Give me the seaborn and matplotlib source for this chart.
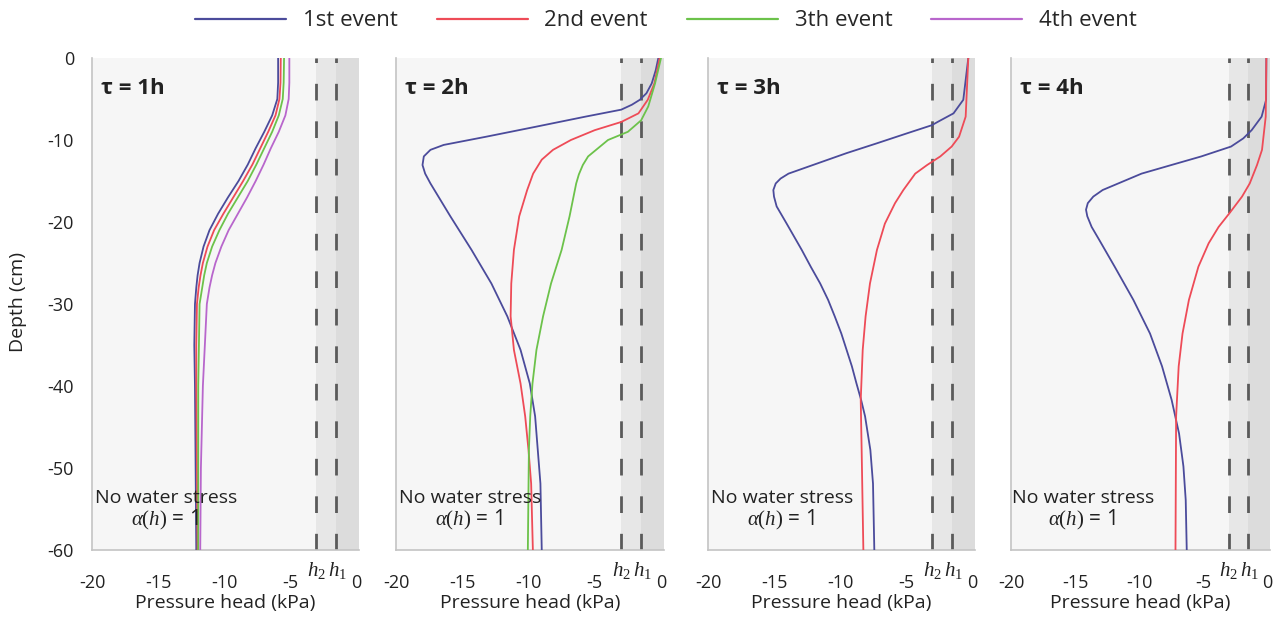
import matplotlib
matplotlib.use("Agg")
import matplotlib.pyplot as plt
import numpy as np
import pandas as pd
import seaborn as sns

# ---------------- data ----------------
events = ["1st event", "2nd event", "3th event", "4th event"]
colors = ["#4b4b9b", "#ee4b57", "#6cc24a", "#b866cc"]
taus = ["\u03c4 = 1h", "\u03c4 = 2h", "\u03c4 = 3h", "\u03c4 = 4h"]
xticks = [-20, -15, -10, -5, 0]
yticks = [0, -10, -20, -30, -40, -50, -60]
h2_value = -3.0
h1_value = -1.5

# panel 1 (tau = 1h)
p1_depth = [0, -3, -5, -7, -9, -11, -13, -15, -17, -19, -21, -23, -25, -26.5, -28, -30, -35, -40, -50, -60]
p1_e1 = [-5.9, -5.9, -5.96, -6.35, -6.95, -7.6, -8.2, -8.9, -9.7, -10.45, -11.1, -11.55, -11.85, -12.0, -12.1, -12.2, -12.25, -12.2, -12.15, -12.1]
p1_e2 = [-5.7, -5.72, -5.8, -6.1, -6.65, -7.25, -7.85, -8.55, -9.3, -10.05, -10.75, -11.25, -11.6, -11.78, -11.92, -12.05, -12.1, -12.1, -12.05, -12.0]
p1_e3 = [-5.45, -5.48, -5.55, -5.85, -6.35, -6.95, -7.55, -8.2, -8.95, -9.7, -10.35, -10.9, -11.3, -11.5, -11.65, -11.85, -11.9, -11.95, -11.95, -11.95]
p1_e4 = [-5.05, -5.05, -5.1, -5.35, -5.85, -6.45, -7.0, -7.6, -8.25, -8.95, -9.65, -10.2, -10.65, -10.9, -11.1, -11.3, -11.45, -11.6, -11.75, -11.8]

# panel 2 (tau = 2h)
p2_e1_depth = [0, -1.5, -3.1, -4.3, -5.1, -5.7, -6.3, -7.15, -8.4, -9.6, -10.6, -11.2, -12.0, -13.05, -14.1, -15.3, -17.3, -19.3, -23.4, -27.5, -31.5, -35.6, -39.7, -43.7, -47.8, -51.9, -60]
p2_e1 = [-0.2, -0.4, -0.7, -1.1, -1.6, -2.2, -3.0, -5.7, -9.5, -13.2, -16.4, -17.4, -17.9, -18.0, -17.8, -17.4, -16.65, -15.9, -14.3, -12.8, -11.6, -10.6, -9.9, -9.5, -9.3, -9.1, -9.0]
p2_e2_depth = [0, -3.1, -5.1, -6.75, -7.8, -8.8, -10.0, -11.2, -12.4, -14.1, -16.1, -19.3, -23.4, -27.5, -31.5, -35.6, -39.7, -43.7, -47.8, -51.9, -60]
p2_e2 = [-0.1, -0.5, -1.0, -1.7, -3.0, -5.0, -6.8, -8.15, -9.0, -9.65, -10.1, -10.7, -11.1, -11.3, -11.35, -11.1, -10.6, -10.25, -10.0, -9.8, -9.67]
p2_e3_depth = [0, -3.1, -5.9, -7.6, -9.0, -10.0, -11.2, -12.0, -13.05, -14.2, -15.3, -19.3, -23.4, -27.5, -31.5, -35.6, -39.7, -43.7, -47.8, -60]
p2_e3 = [0.0, -0.45, -0.96, -1.5, -2.5, -4.0, -4.9, -5.5, -5.9, -6.2, -6.4, -6.9, -7.5, -8.3, -8.9, -9.4, -9.7, -9.87, -9.97, -10.05]

# panel 3 (tau = 3h)
p3_e1_depth = [0, -5.1, -6.75, -7.75, -8.2, -9.2, -10.4, -11.6, -12.85, -14.1, -14.7, -15.3, -16.1, -16.9, -18.1, -20.2, -23.4, -25.5, -27.5, -29.5, -31.5, -33.6, -35.6, -37.6, -39.7, -41.7, -43.7, -47.8, -51.9, -60]
p3_e1 = [-0.28, -0.66, -1.4, -2.55, -3.05, -4.95, -7.2, -9.5, -11.7, -13.9, -14.5, -14.87, -15.05, -15.0, -14.8, -14.04, -12.9, -12.2, -11.5, -10.9, -10.4, -9.9, -9.5, -9.1, -8.75, -8.4, -8.1, -7.7, -7.5, -7.4]
p3_e2_depth = [0, -7.15, -9.6, -10.8, -12.0, -13.05, -14.1, -16.1, -17.7, -20.2, -23.4, -27.5, -31.5, -35.6, -41.7, -47.8, -60]
p3_e2 = [-0.28, -0.48, -0.98, -1.54, -2.4, -3.4, -4.3, -5.2, -5.83, -6.6, -7.2, -7.73, -8.06, -8.28, -8.43, -8.36, -8.23]

# panel 4 (tau = 4h)
p4_e1_depth = [0, -5.1, -7.15, -8.8, -9.8, -10.8, -12.0, -13.05, -14.1, -16.1, -16.9, -17.7, -18.5, -19.3, -20.6, -22.2, -25.45, -29.5, -33.6, -37.6, -41.7, -45.8, -49.8, -53.9, -60]
p4_e1 = [-0.05, -0.07, -0.42, -1.2, -1.85, -2.81, -5.13, -7.47, -9.8, -12.84, -13.57, -14.0, -14.14, -14.04, -13.7, -13.1, -11.9, -10.44, -9.14, -8.2, -7.45, -6.87, -6.53, -6.35, -6.27]
p4_e2_depth = [0, -7.15, -11.2, -13.05, -15.3, -16.9, -18.9, -20.6, -22.6, -25.45, -29.5, -33.6, -37.6, -43.7, -60]
p4_e2 = [-0.05, -0.1, -0.39, -0.78, -1.35, -1.95, -2.92, -3.78, -4.56, -5.36, -6.1, -6.6, -6.9, -7.1, -7.15]


def long_df(pairs):
    frames = []
    for ev, d, h in pairs:
        frames.append(pd.DataFrame({"depth": d, "head": h, "event": ev}))
    return pd.concat(frames, ignore_index=True)


panels = [
    long_df([(events[0], p1_depth, p1_e1), (events[1], p1_depth, p1_e2),
             (events[2], p1_depth, p1_e3), (events[3], p1_depth, p1_e4)]),
    long_df([(events[0], p2_e1_depth, p2_e1), (events[1], p2_e2_depth, p2_e2),
             (events[2], p2_e3_depth, p2_e3)]),
    long_df([(events[0], p3_e1_depth, p3_e1), (events[1], p3_e2_depth, p3_e2)]),
    long_df([(events[0], p4_e1_depth, p4_e1), (events[1], p4_e2_depth, p4_e2)]),
]

# ---------------- style ----------------
sns.set_theme(style="white")
plt.rcParams["font.family"] = ["Open Sans", "DejaVu Sans"]
plt.rcParams["mathtext.fontset"] = "custom"
plt.rcParams["mathtext.rm"] = "Liberation Serif"
plt.rcParams["mathtext.it"] = "Liberation Serif:italic"
plt.rcParams["lines.solid_joinstyle"] = "round"

W, H = 1287, 626
fig = plt.figure(figsize=(W / 100, H / 100), dpi=100)
fig.patch.set_facecolor("white")

XMAX = 0.2
# pixel positions of x=-20 and x=0 per panel
panel_px = [(92, 356), (396, 661), (708, 972), (1011, 1267)]
top_px, bot_px = 58, 550
palette = dict(zip(events, colors))
TXT = "#222222"

handles, labels = None, None
for i, (df, (xl, xr)) in enumerate(zip(panels, panel_px)):
    scale = (xr - xl) / 20.0
    width_px = scale * (20 + XMAX)
    ax = fig.add_axes([xl / W, (H - bot_px) / H, width_px / W, (bot_px - top_px) / H])
    ax.set_facecolor("#f6f6f6")
    ax.axvspan(h2_value, h1_value, color="#e7e7e7", lw=0, zorder=0)
    ax.axvspan(h1_value, XMAX, color="#dcdcdc", lw=0, zorder=0)
    for hv in (h2_value, h1_value):
        ax.axvline(hv, color="#5a5a5a", lw=2.0, linestyle=(0, (6, 7.5)), zorder=1)

    sns.lineplot(data=df, x="head", y="depth", hue="event",
                 hue_order=[e for e in events if e in set(df["event"])],
                 palette=palette, orient="y", estimator=None, sort=True,
                 linewidth=1.3, ax=ax, legend=(i == 0), zorder=3)
    if i == 0:
        handles, labels = ax.get_legend_handles_labels()
        ax.get_legend().remove()

    ax.set_xlim(-20, XMAX)
    ax.set_ylim(-60, 0)
    ax.set_xticks(xticks)
    ax.set_xticklabels([str(t) for t in xticks])
    ax.tick_params(axis="x", length=0, pad=17, labelsize=13, colors=TXT)
    if i == 0:
        ax.set_yticks(yticks)
        ax.set_yticklabels([str(t) for t in yticks])
        ax.tick_params(axis="y", length=0, pad=13, labelsize=13, colors=TXT)
    else:
        ax.set_yticks([])
    ax.set_ylabel("")
    ax.set_xlabel("Pressure head (kPa)", fontsize=14, labelpad=2, color=TXT)
    for s in ("top", "right"):
        ax.spines[s].set_visible(False)
    for s in ("left", "bottom"):
        ax.spines[s].set_color("#c4c4c4")
        ax.spines[s].set_linewidth(1.2)

    ax.text(-19.3, -3.7, taus[i], fontsize=16, fontweight="bold", ha="left", va="center", color=TXT)
    ax.text(-14.4, -53.6, "No water stress", fontsize=14, ha="center", va="center", color=TXT)
    ax.text(-14.5, -56.4, r"$\alpha(h)$ = 1", fontsize=15, ha="center", va="center", color=TXT)
    ax.annotate(r"$h_2$", xy=(h2_value, -60), xytext=(0, -7), textcoords="offset points",
                ha="center", va="top", fontsize=15, annotation_clip=False, color=TXT)
    ax.annotate(r"$h_1$", xy=(h1_value, -60), xytext=(1, -7), textcoords="offset points",
                ha="center", va="top", fontsize=15, annotation_clip=False, color=TXT)

fig.text(18 / W, 1 - 302 / H, "Depth (cm)", rotation=90, ha="center", va="center", fontsize=14, color=TXT)

leg = fig.legend(handles, labels, loc="center", bbox_to_anchor=(666 / W, 1 - 21 / H), ncol=4,
                 frameon=False, fontsize=16, handlelength=4.1, handletextpad=0.75, columnspacing=1.75)
for lh in leg.get_lines():
    lh.set_linewidth(1.6)

fig.savefig("out.png", dpi=100, facecolor="white")
